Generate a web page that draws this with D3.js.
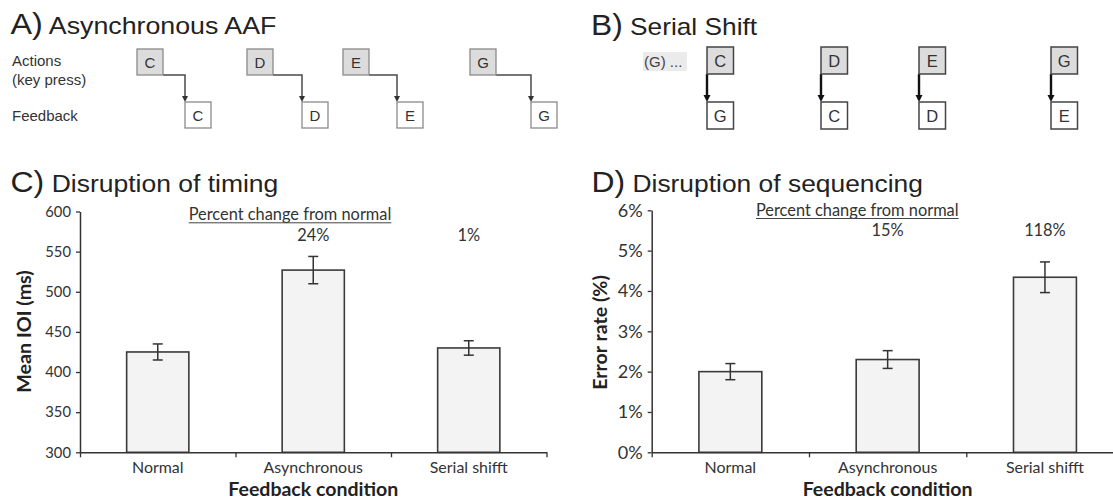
<!DOCTYPE html>
<html>
<head>
<meta charset="utf-8">
<script src="https://cdn.jsdelivr.net/npm/d3@7"></script>
<style>
  html, body { margin: 0; padding: 0; background: #fff; }
  svg { display: block; }
</style>
</head>
<body>
<script>
// ---------------- DATA ----------------
const conditions = ["Normal", "Asynchronous", "Serial shifft"];
const ioiMeans = [425, 527, 430];
const ioiErrors = [10, 17, 9];
const ioiChange = ["", "24%", "1%"];
const ioiTicks = [300, 350, 400, 450, 500, 550, 600];

const errMeans = [2.0, 2.3, 4.34];
const errErrors = [0.2, 0.22, 0.38];
const errChange = ["", "15%", "118%"];
const errTicks = [0, 1, 2, 3, 4, 5, 6];

// Diagram A (asynchronous feedback): keys and onset times (arbitrary units)
const aafKeys = ["C", "D", "E", "G"];
const aafActionTimes = [0, 110, 206, 333];
const aafFeedbackTimes = [48, 165, 260, 394];

// Diagram B (serial shift): keys and onset times (arbitrary units)
const serialActions = ["C", "D", "E", "G"];
const serialFeedback = ["G", "C", "D", "E"];
const serialTimes = [0, 114, 212, 344];

const rowLabels = ["Actions", "(key press)", "Feedback"];
const titles = [["A)", " Asynchronous AAF"], ["B)", " Serial Shift"], ["C)", " Disruption of timing"], ["D)", " Disruption of sequencing"]];

// ---------------- SETUP ----------------
const W = 1113, H = 499;
const svg = d3.select("body").append("svg").attr("width", W).attr("height", H);
const SANS = "'Liberation Sans', Arial, Helvetica, sans-serif";
const CHART = "Lato, 'Open Sans', sans-serif";

function fitFont(sel, target) {
  const w = sel.node().getBBox().width;
  const fs = parseFloat(sel.attr("font-size"));
  sel.attr("font-size", fs * target / w);
}

// ---------------- TITLES ----------------
function title(parts, x, y, targetW) {
  const g = svg.append("g");
  const t = g.append("text").attr("x", 0).attr("y", 0).attr("font-family", SANS).attr("fill", "#222");
  t.append("tspan").attr("font-size", 29).text(parts[0]);
  t.append("tspan").attr("font-size", 24).text(parts[1]);
  const w = t.node().getBBox().width;
  g.attr("transform", `translate(${x},${y}) scale(${targetW / w},1)`);
}
title(titles[0], 10.5, 34, 266);
title(titles[1], 591, 34.5, 166.5);
title(titles[2], 10.5, 192, 268);
title(titles[3], 591.5, 192, 331.5);

// ---------------- DIAGRAM A ----------------
const gA = svg.append("g");
const labelY = [66, 85, 121];
gA.selectAll("text.rl").data(rowLabels).join("text")
  .attr("x", 12).attr("y", (d, i) => labelY[i])
  .attr("font-family", SANS).attr("font-size", 15).attr("fill", "#333").text(d => d);

const xA = d3.scaleLinear().domain([0, 420]).range([137, 557]);
const bwA = 26, actY = 49, fbY = 102, bhA = 26;

// arrows first
aafKeys.forEach((k, i) => {
  const xs = xA(aafActionTimes[i]) + bwA, xf = xA(aafFeedbackTimes[i]);
  gA.append("path").attr("d", `M${xs},${actY + bhA} H${xf} V${fbY - 5}`)
    .attr("fill", "none").attr("stroke", "#4a4a4a").attr("stroke-width", 1.5);
  gA.append("path").attr("d", `M${xf - 3},${fbY - 6} L${xf + 3},${fbY - 6} L${xf},${fbY} Z`).attr("fill", "#333");
});
gA.selectAll("rect.act").data(aafKeys).join("rect")
  .attr("x", (d, i) => xA(aafActionTimes[i])).attr("y", actY).attr("width", bwA).attr("height", bhA)
  .attr("fill", "#dcdcdc").attr("stroke", "#8a8a8a").attr("stroke-width", 1.3);
gA.selectAll("text.act").data(aafKeys).join("text")
  .attr("x", (d, i) => xA(aafActionTimes[i]) + bwA / 2).attr("y", actY + 19)
  .attr("text-anchor", "middle").attr("font-family", SANS).attr("font-size", 15).attr("fill", "#333").text(d => d);
gA.selectAll("rect.fb").data(aafKeys).join("rect")
  .attr("x", (d, i) => xA(aafFeedbackTimes[i])).attr("y", fbY).attr("width", bwA).attr("height", bhA)
  .attr("fill", "#fff").attr("stroke", "#8a8a8a").attr("stroke-width", 1.3);
gA.selectAll("text.fb").data(aafKeys).join("text")
  .attr("x", (d, i) => xA(aafFeedbackTimes[i]) + bwA / 2).attr("y", fbY + 19)
  .attr("text-anchor", "middle").attr("font-family", SANS).attr("font-size", 15).attr("fill", "#333").text(d => d);

// ---------------- DIAGRAM B ----------------
const gB = svg.append("g");
gB.append("rect").attr("x", 643).attr("y", 52).attr("width", 44).attr("height", 19).attr("fill", "#ebebeb");
gB.append("text").attr("x", 644).attr("y", 67).attr("font-family", SANS).attr("font-size", 15)
  .attr("fill", "#444").text("(G) ...");

const xB = d3.scaleLinear().domain([0, 344]).range([707, 1051]);
const bwB = 26.5, actYB = 47, fbYB = 102, bhB = 27;
serialActions.forEach((k, i) => {
  const x0 = xB(serialTimes[i]);
  gB.append("line").attr("x1", x0).attr("x2", x0).attr("y1", actYB + bhB).attr("y2", fbYB - 5)
    .attr("stroke", "#111").attr("stroke-width", 2.4);
  gB.append("path").attr("d", `M${x0 - 3.5},${fbYB - 7} L${x0 + 3.5},${fbYB - 7} L${x0},${fbYB} Z`).attr("fill", "#111");
});
gB.selectAll("rect.act").data(serialActions).join("rect")
  .attr("x", (d, i) => xB(serialTimes[i])).attr("y", actYB).attr("width", bwB).attr("height", bhB)
  .attr("fill", "#dcdcdc").attr("stroke", "#444").attr("stroke-width", 1.5);
gB.selectAll("text.act").data(serialActions).join("text")
  .attr("x", (d, i) => xB(serialTimes[i]) + bwB / 2).attr("y", actYB + 20)
  .attr("text-anchor", "middle").attr("font-family", SANS).attr("font-size", 16.5).attr("fill", "#333").text(d => d);
gB.selectAll("rect.fb").data(serialFeedback).join("rect")
  .attr("x", (d, i) => xB(serialTimes[i])).attr("y", fbYB).attr("width", bwB).attr("height", bhB)
  .attr("fill", "#fff").attr("stroke", "#444").attr("stroke-width", 1.5);
gB.selectAll("text.fb").data(serialFeedback).join("text")
  .attr("x", (d, i) => xB(serialTimes[i]) + bwB / 2).attr("y", fbYB + 20)
  .attr("text-anchor", "middle").attr("font-family", SANS).attr("font-size", 16.5).attr("fill", "#333").text(d => d);

// ---------------- BAR CHARTS ----------------
function barChart(cfg) {
  const g = svg.append("g");
  const x = d3.scaleBand().domain(conditions).range([cfg.left, cfg.right]).paddingInner(0.6).paddingOuter(0.3);
  const y = d3.scaleLinear().domain(cfg.domain).range([cfg.bottom, cfg.top]);
  const cx = d => x(d) + x.bandwidth() / 2;

  // bars
  g.selectAll("rect.bar").data(cfg.means).join("rect")
    .attr("x", (d, i) => x(conditions[i])).attr("y", d => y(d))
    .attr("width", x.bandwidth()).attr("height", d => cfg.bottom - y(d))
    .attr("fill", "#f3f3f3").attr("stroke", "#3a3a3a").attr("stroke-width", 1.6);

  // error bars
  const eb = g.selectAll("g.eb").data(cfg.means).join("g");
  eb.append("line").attr("x1", (d, i) => cx(conditions[i])).attr("x2", (d, i) => cx(conditions[i]))
    .attr("y1", (d, i) => y(d + cfg.errs[i])).attr("y2", (d, i) => y(d - cfg.errs[i]));
  eb.append("line").attr("x1", (d, i) => cx(conditions[i]) - 5).attr("x2", (d, i) => cx(conditions[i]) + 5)
    .attr("y1", (d, i) => y(d + cfg.errs[i])).attr("y2", (d, i) => y(d + cfg.errs[i]));
  eb.append("line").attr("x1", (d, i) => cx(conditions[i]) - 5).attr("x2", (d, i) => cx(conditions[i]) + 5)
    .attr("y1", (d, i) => y(d - cfg.errs[i])).attr("y2", (d, i) => y(d - cfg.errs[i]));
  eb.selectAll("line").attr("stroke", "#333").attr("stroke-width", 1.5);

  // y axis
  const ya = g.append("g").attr("transform", `translate(${cfg.left},0)`)
    .call(d3.axisLeft(y).tickValues(cfg.ticks).tickSize(4).tickSizeOuter(0).tickPadding(5).tickFormat(cfg.fmt));
  ya.select(".domain").attr("stroke", "#333").attr("stroke-width", 1.5);
  ya.selectAll(".tick line").attr("stroke", "#333").attr("stroke-width", 1.3);
  ya.selectAll(".tick text").attr("font-family", CHART).attr("font-size", 15).attr("fill", "#333");
  // fit tick label size
  const topTick = ya.selectAll(".tick text").filter(d => d === cfg.ticks[cfg.ticks.length - 1]);
  const fs = 15 * cfg.yTickW / topTick.node().getBBox().width;
  ya.selectAll(".tick text").attr("font-size", fs);

  // x axis with boundary ticks
  const xb = d3.scaleLinear().domain([0, conditions.length]).range([cfg.left, cfg.right]);
  const xa = g.append("g").attr("transform", `translate(0,${cfg.bottom})`)
    .call(d3.axisBottom(xb).tickValues(d3.range(conditions.length + 1)).tickSize(5).tickSizeOuter(0).tickFormat(""));
  xa.select(".domain").attr("stroke", "#333").attr("stroke-width", 1.5);
  xa.selectAll(".tick line").attr("stroke", "#333").attr("stroke-width", 1.3);

  const cat = g.selectAll("text.cat").data(conditions).join("text")
    .attr("x", d => cx(d)).attr("y", cfg.bottom + 20.5).attr("text-anchor", "middle")
    .attr("font-family", CHART).attr("font-size", 15).attr("fill", "#333").text(d => d);
  const asyn = cat.filter(d => d === "Asynchronous");
  const cfs = 15 * 99.5 / asyn.node().getBBox().width;
  cat.attr("font-size", cfs);

  // axis titles
  const xt = g.append("text").attr("x", (cfg.left + cfg.right) / 2).attr("y", 496).attr("text-anchor", "middle")
    .attr("font-family", CHART).attr("font-weight", "bold").attr("font-size", 17).attr("fill", "#222")
    .text("Feedback condition");
  fitFont(xt, 170);
  const yt = g.append("text").attr("transform", `translate(${cfg.yLabelX},${cfg.yLabelY}) rotate(-90)`)
    .attr("text-anchor", "middle").attr("font-family", CHART).attr("font-weight", "bold")
    .attr("font-size", 17).attr("fill", "#222").text(cfg.yLabel);
  fitFont(yt, cfg.yLabelW);

  // percent change annotation
  const pt = g.append("text").attr("x", cfg.pctX).attr("y", cfg.pctY).attr("text-anchor", "middle")
    .attr("font-family", CHART).attr("font-size", 15).attr("fill", "#333").text("Percent change from normal");
  fitFont(pt, 203);
  const bb = pt.node().getBBox();
  g.append("line").attr("x1", bb.x).attr("x2", bb.x + bb.width).attr("y1", cfg.pctY + 2.8).attr("y2", cfg.pctY + 2.8)
    .attr("stroke", "#444").attr("stroke-width", 1);
  g.selectAll("text.chg").data(cfg.change).join("text")
    .attr("x", (d, i) => cx(conditions[i])).attr("y", cfg.chgY).attr("text-anchor", "middle")
    .attr("font-family", CHART).attr("font-size", pt.attr("font-size")).attr("fill", "#333").text(d => d);
}

barChart({
  left: 80, right: 546.5, top: 211.5, bottom: 452.3, domain: [300, 600],
  means: ioiMeans, errs: ioiErrors, ticks: ioiTicks, fmt: d => d, yTickW: 26,
  yLabel: "Mean IOI (ms)", yLabelX: 31, yLabelY: 331.5, yLabelW: 123,
  pctX: 290, pctY: 220, chgY: 241, change: ioiChange
});
barChart({
  left: 651.7, right: 1123.6, top: 210.3, bottom: 452.3, domain: [0, 6],
  means: errMeans, errs: errErrors, ticks: errTicks, fmt: d => d + "%", yTickW: 25,
  yLabel: "Error rate (%)", yLabelX: 607, yLabelY: 332.5, yLabelW: 115,
  pctX: 857.3, pctY: 215.7, chgY: 235.7, change: errChange
});
</script>
</body>
</html>
